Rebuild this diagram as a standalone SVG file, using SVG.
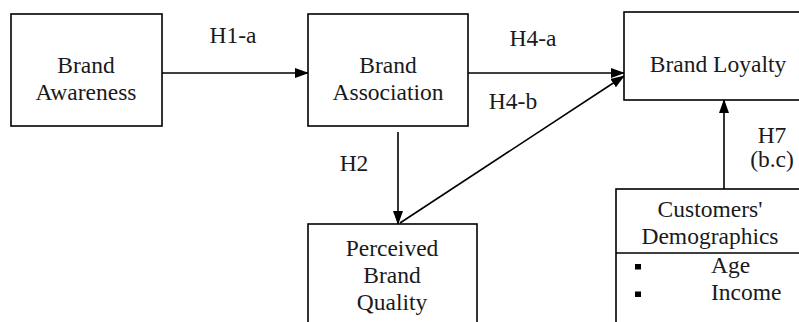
<svg xmlns="http://www.w3.org/2000/svg" width="799" height="322" viewBox="0 0 799 322">
<style>
.box{fill:#fff;stroke:#000;stroke-width:1.6}
.ln{stroke:#000;stroke-width:1.6;fill:none}
text{font-family:'Liberation Serif','DejaVu Serif',serif;font-size:23.5px;fill:#1a1a1a;text-anchor:middle}
.l{text-anchor:start}
</style>
<defs>
<marker id="ah" markerWidth="14" markerHeight="10" refX="13" refY="5" orient="auto" markerUnits="userSpaceOnUse">
<path d="M0,0 L14,5 L0,10 Z" fill="#000"/>
</marker>
</defs>
<rect width="799" height="322" fill="#fff"/>
<g id="connectors">
<line class="ln" x1="162" y1="73" x2="308" y2="73" marker-end="url(#ah)"/>
<line class="ln" x1="468" y1="73" x2="624" y2="73" marker-end="url(#ah)"/>
<line class="ln" x1="398" y1="132" x2="398" y2="224" marker-end="url(#ah)"/>
<line class="ln" x1="400" y1="223" x2="624" y2="76" marker-end="url(#ah)"/>
<line class="ln" x1="724" y1="189" x2="724" y2="100" marker-end="url(#ah)"/>
<text x="233" y="43">H1-a</text>
<text x="533" y="46">H4-a</text>
<text x="513" y="109">H4-b</text>
<text x="354" y="171">H2</text>
<text x="772" y="143">H7</text>
<text x="772" y="167">(b.c)</text>
</g>
<g id="brand-awareness">
<rect class="box" x="11" y="14" width="151" height="112"/>
<text x="86" y="73">Brand</text>
<text x="86" y="100">Awareness</text>
</g>
<g id="brand-association">
<rect class="box" x="308" y="14" width="160" height="112"/>
<text x="388" y="73">Brand</text>
<text x="388" y="100">Association</text>
</g>
<g id="brand-loyalty">
<rect class="box" x="624" y="12" width="190" height="88"/>
<text x="718" y="72">Brand Loyalty</text>
</g>
<g id="perceived-brand-quality">
<rect class="box" x="308" y="224" width="169" height="110"/>
<text x="392" y="256">Perceived</text>
<text x="392" y="283">Brand</text>
<text x="392" y="310">Quality</text>
</g>
<g id="customers-demographics">
<rect class="box" x="616" y="189" width="200" height="145"/>
<line class="ln" x1="616" y1="253" x2="816" y2="253"/>
<text x="710" y="217">Customers'</text>
<text x="710" y="244">Demographics</text>
<rect x="635" y="264" width="6" height="5.5" fill="#000"/>
<rect x="635" y="291.5" width="6" height="5.5" fill="#000"/>
<text class="l" x="711" y="273">Age</text>
<text class="l" x="711" y="300">Income</text>
</g>
</svg>
